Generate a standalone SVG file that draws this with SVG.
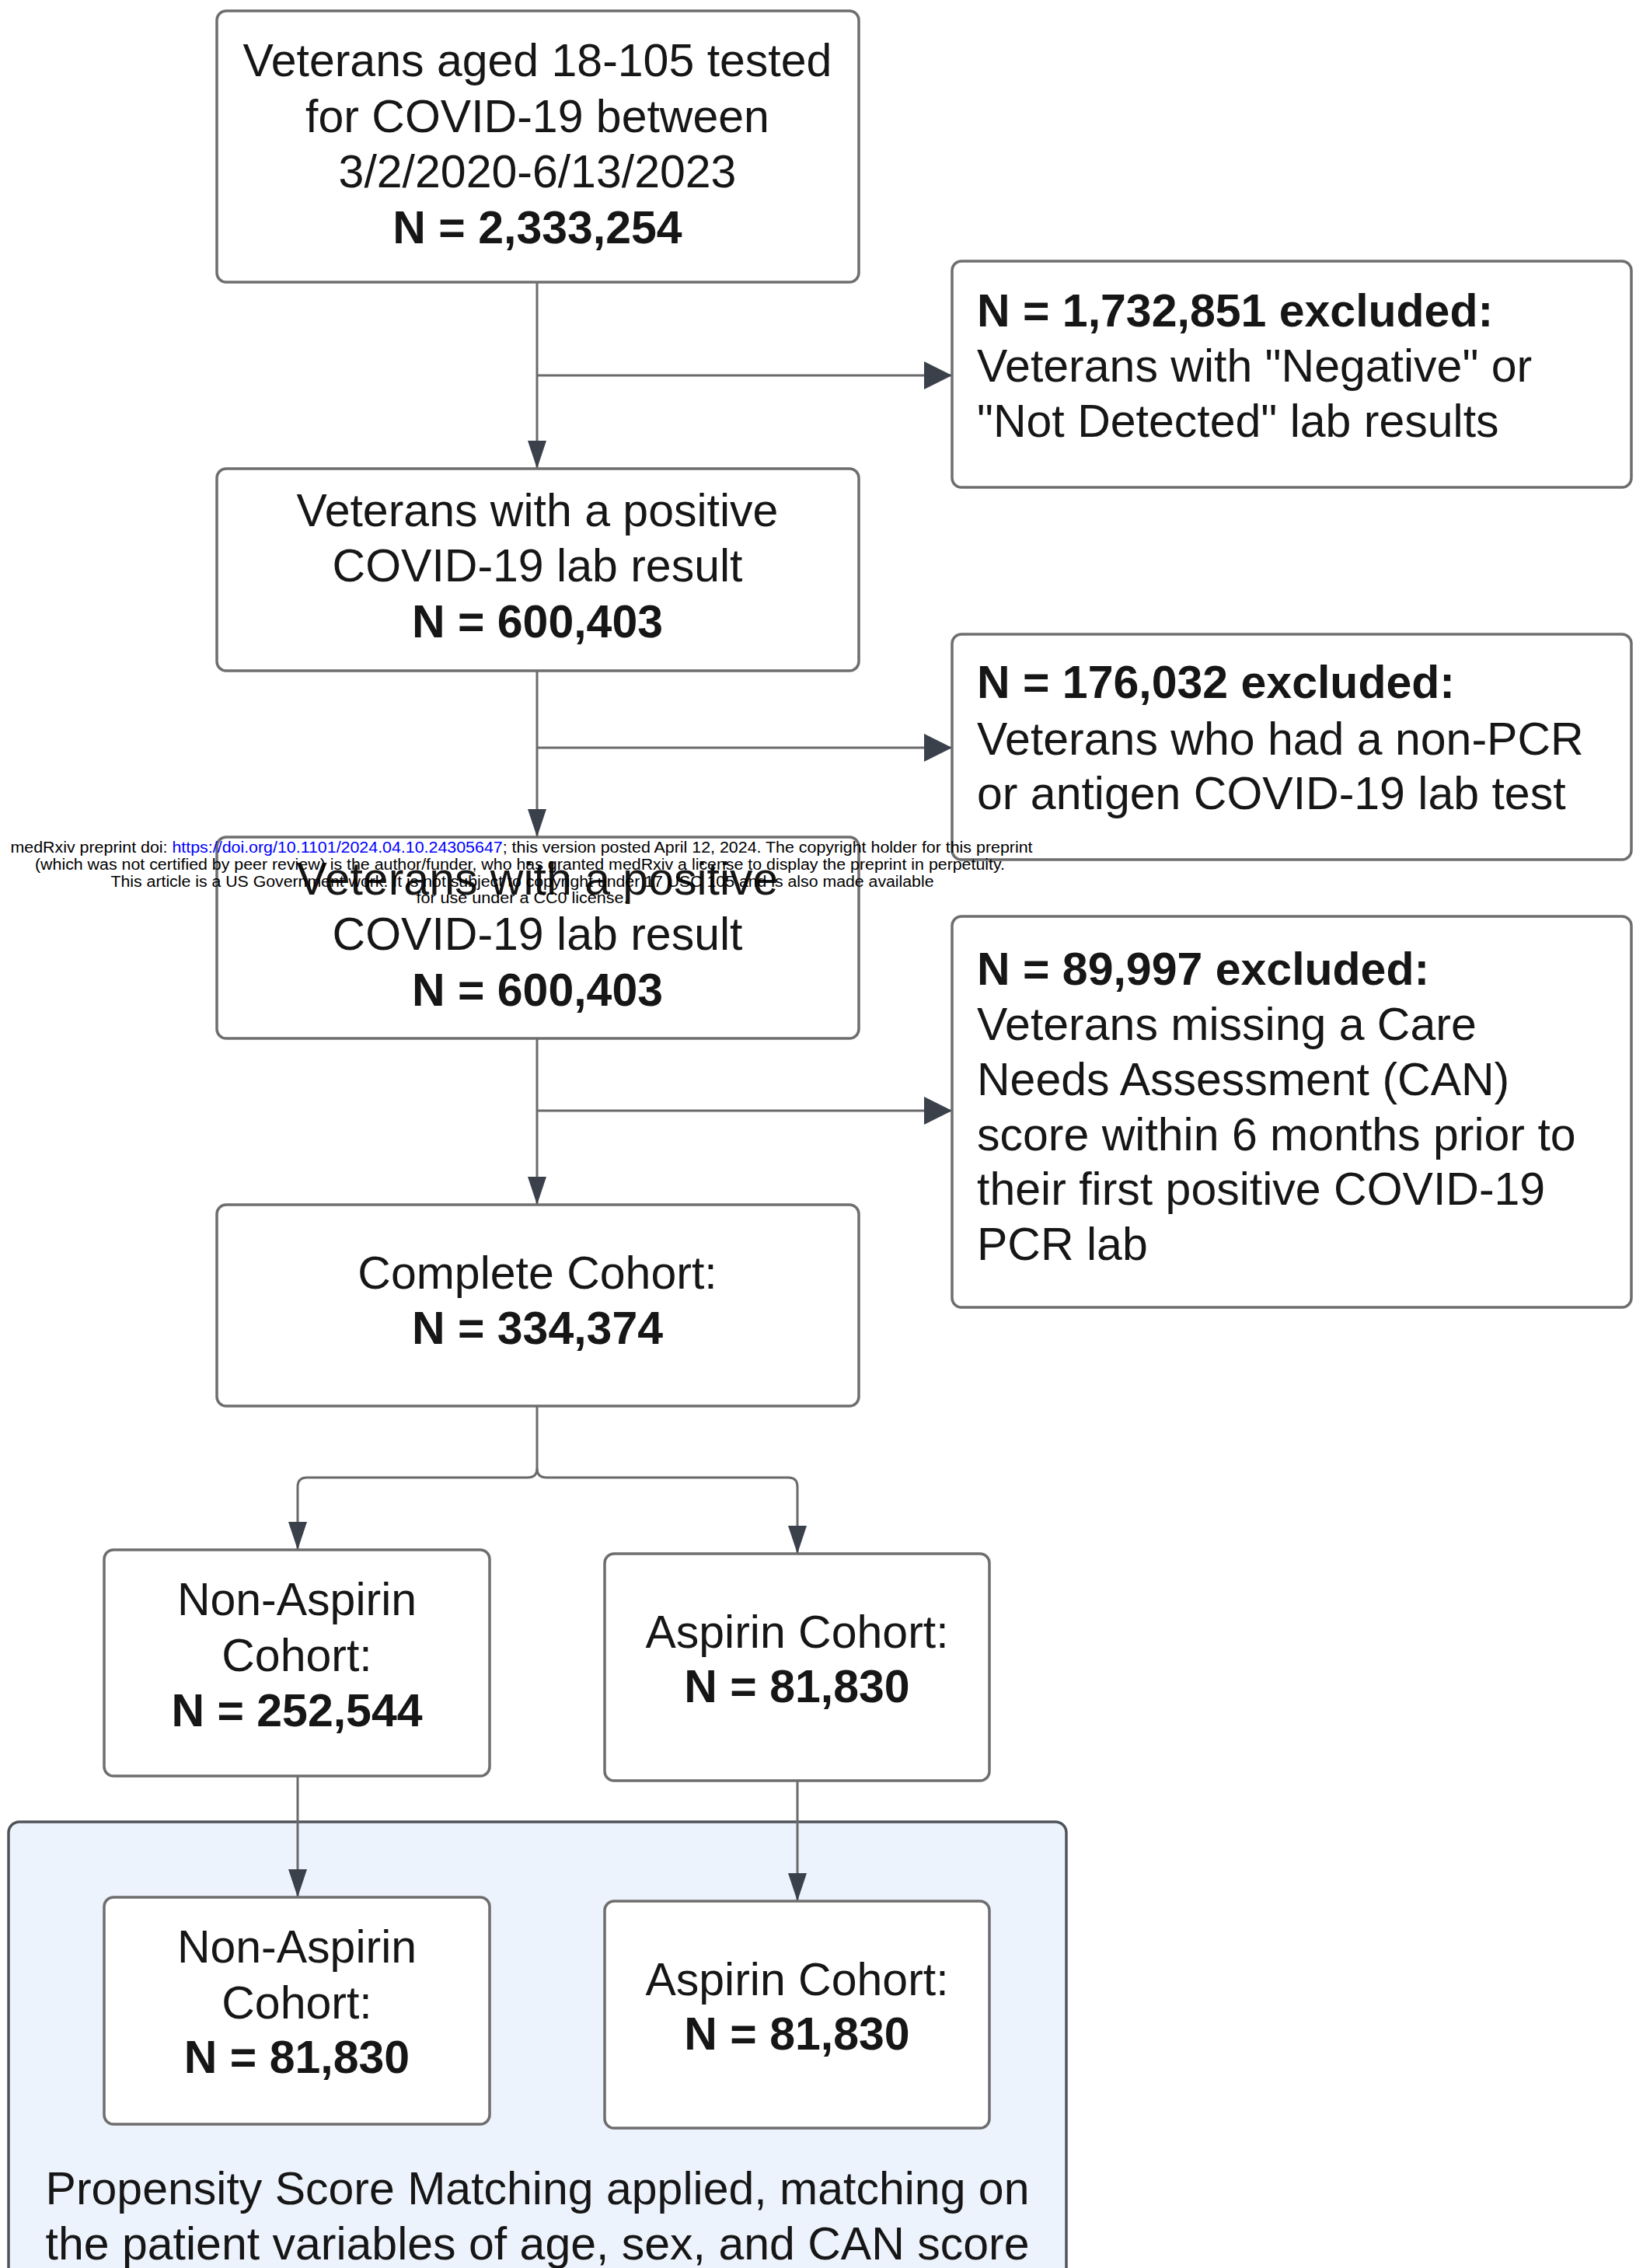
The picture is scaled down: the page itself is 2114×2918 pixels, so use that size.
<svg xmlns="http://www.w3.org/2000/svg" width="2114" height="2918" viewBox="0 0 2114 2918">
<style>
.box{fill:#ffffff;stroke:#6e6e6e;stroke-width:3.5}
.grp{fill:#edf3fc;stroke:#4f545b;stroke-width:3.5}
.t{font-family:"Liberation Sans",Arial,sans-serif;font-size:59px;fill:#161616}
.c{text-anchor:middle}
.b{font-weight:bold}
.con{fill:none;stroke:#6a6a6a;stroke-width:3}
.wm{font-family:"Liberation Sans",Arial,sans-serif;font-size:20px;fill:#000;text-anchor:middle}
</style>
<defs>
<marker id="arrV" markerUnits="userSpaceOnUse" markerWidth="36" markerHeight="24" viewBox="0 0 36 24" refX="36" refY="12" orient="auto"><path d="M0,0 L36,12 L0,24 z" fill="#3a414b"/></marker>
<marker id="arrH" markerUnits="userSpaceOnUse" markerWidth="36" markerHeight="36" viewBox="0 0 36 36" refX="36" refY="18" orient="auto"><path d="M0,0 L36,18 L0,36 z" fill="#3a414b"/></marker>
</defs>
<rect width="2114" height="2918" fill="#ffffff"/>

<g id="matching-group">
<rect class="grp" x="11" y="2344" width="1361" height="620" rx="14"/>
<text class="t c" x="691.5" y="2836">Propensity Score Matching applied, matching on</text>
<text class="t c" x="691.5" y="2907">the patient variables of age, sex, and CAN score</text>
</g>

<g id="connectors">
<path class="con" d="M691,363 V603" marker-end="url(#arrV)"/>
<path class="con" d="M691,483 H1225" marker-end="url(#arrH)"/>
<path class="con" d="M691,863 V1077" marker-end="url(#arrV)"/>
<path class="con" d="M691,962 H1225" marker-end="url(#arrH)"/>
<path class="con" d="M691,1336 V1550" marker-end="url(#arrV)"/>
<path class="con" d="M691,1429 H1225" marker-end="url(#arrH)"/>
<path class="con" d="M691,1809 V1889 Q691,1901 679,1901 H395 Q383,1901 383,1913 V1994" marker-end="url(#arrV)"/>
<path class="con" d="M691,1889 Q691,1901 703,1901 H1014 Q1026,1901 1026,1913 V1999" marker-end="url(#arrV)"/>
<path class="con" d="M383,2285 V2441" marker-end="url(#arrV)"/>
<path class="con" d="M1026,2291 V2446" marker-end="url(#arrV)"/>
</g>

<g id="tested">
<rect class="box" x="279" y="14" width="826" height="349" rx="12"/>
<text class="t c" x="691.5" y="98">Veterans aged 18-105 tested</text>
<text class="t c" x="691.5" y="170">for COVID-19 between</text>
<text class="t c" x="691.5" y="241">3/2/2020-6/13/2023</text>
<text class="t c b" x="691.5" y="313">N = 2,333,254</text>
</g>

<g id="excluded-negative">
<rect class="box" x="1225" y="336" width="874" height="291" rx="12"/>
<text class="t b" x="1257" y="420">N = 1,732,851 excluded:</text>
<text class="t" x="1257" y="491">Veterans with "Negative" or</text>
<text class="t" x="1257" y="562">"Not Detected" lab results</text>
</g>

<g id="positive-1">
<rect class="box" x="279" y="603" width="826" height="260" rx="12"/>
<text class="t c" x="691.5" y="677">Veterans with a positive</text>
<text class="t c" x="691.5" y="748">COVID-19 lab result</text>
<text class="t c b" x="691.5" y="820">N = 600,403</text>
</g>

<g id="excluded-nonpcr">
<rect class="box" x="1225" y="816" width="874" height="290" rx="12"/>
<text class="t b" x="1257" y="898">N = 176,032 excluded:</text>
<text class="t" x="1257" y="971">Veterans who had a non-PCR</text>
<text class="t" x="1257" y="1041">or antigen COVID-19 lab test</text>
</g>

<g id="positive-2">
<rect class="box" x="279" y="1077" width="826" height="259" rx="12"/>
<text class="t c" x="691.5" y="1151">Veterans with a positive</text>
<text class="t c" x="691.5" y="1222">COVID-19 lab result</text>
<text class="t c b" x="691.5" y="1294">N = 600,403</text>
</g>

<g id="excluded-can">
<rect class="box" x="1225" y="1179" width="874" height="503" rx="12"/>
<text class="t b" x="1257" y="1267">N = 89,997 excluded:</text>
<text class="t" x="1257" y="1338">Veterans missing a Care</text>
<text class="t" x="1257" y="1409">Needs Assessment (CAN)</text>
<text class="t" x="1257" y="1480">score within 6 months prior to</text>
<text class="t" x="1257" y="1550">their first positive COVID-19</text>
<text class="t" x="1257" y="1621">PCR lab</text>
</g>

<g id="complete-cohort">
<rect class="box" x="279" y="1550" width="826" height="259" rx="12"/>
<text class="t c" x="691.5" y="1658">Complete Cohort:</text>
<text class="t c b" x="691.5" y="1729">N = 334,374</text>
</g>

<g id="non-aspirin-1">
<rect class="box" x="134" y="1994" width="496" height="291" rx="12"/>
<text class="t c" x="382" y="2078">Non-Aspirin</text>
<text class="t c" x="382" y="2150">Cohort:</text>
<text class="t c b" x="382" y="2221">N = 252,544</text>
</g>

<g id="aspirin-1">
<rect class="box" x="778" y="1999" width="495" height="292" rx="12"/>
<text class="t c" x="1025.5" y="2120">Aspirin Cohort:</text>
<text class="t c b" x="1025.5" y="2190">N = 81,830</text>
</g>

<g id="non-aspirin-2">
<rect class="box" x="134" y="2441" width="496" height="292" rx="12"/>
<text class="t c" x="382" y="2525">Non-Aspirin</text>
<text class="t c" x="382" y="2597">Cohort:</text>
<text class="t c b" x="382" y="2667">N = 81,830</text>
</g>

<g id="aspirin-2">
<rect class="box" x="778" y="2446" width="495" height="292" rx="12"/>
<text class="t c" x="1025.5" y="2567">Aspirin Cohort:</text>
<text class="t c b" x="1025.5" y="2637">N = 81,830</text>
</g>

<g id="watermark">
<text class="wm" x="671" y="1097" textLength="1315" lengthAdjust="spacingAndGlyphs">medRxiv preprint doi: <tspan fill="#0000ff">https://doi.org/10.1101/2024.04.10.24305647</tspan>; this version posted April 12, 2024. The copyright holder for this preprint</text>
<text class="wm" x="669" y="1119" textLength="1248" lengthAdjust="spacingAndGlyphs">(which was not certified by peer review) is the author/funder, who has granted medRxiv a license to display the preprint in perpetuity.</text>
<text class="wm" x="672" y="1141" textLength="1059" lengthAdjust="spacingAndGlyphs">This article is a US Government work. It is not subject to copyright under 17 USC 105 and is also made available</text>
<text class="wm" x="672" y="1162" textLength="273" lengthAdjust="spacingAndGlyphs">for use under a CC0 license.</text>
</g>
</svg>
